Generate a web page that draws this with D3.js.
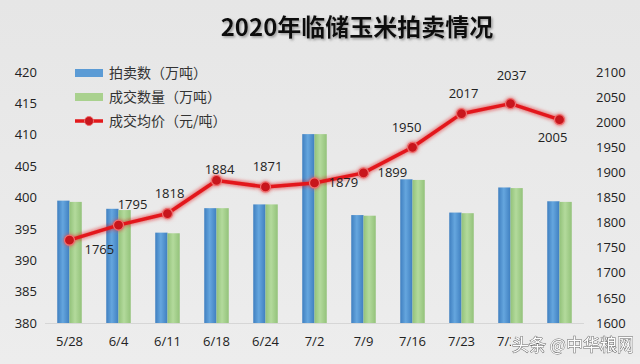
<!DOCTYPE html>
<html>
<head>
<meta charset="utf-8">
<script src="https://cdn.jsdelivr.net/npm/d3@7"></script>
<style>
  body { margin: 0; background: #e9e9e9; }
  svg { display: block; font-family: "Noto Sans CJK SC", "Noto Sans", sans-serif; }
</style>
</head>
<body>
<div id="chart"></div>
<script>
const dates = ["5/28", "6/4", "6/11", "6/18", "6/24", "7/2", "7/9", "7/16", "7/23", "7/30", "8/6"];
const auctioned = [399.5, 398.2, 394.4, 398.3, 398.9, 410.1, 397.2, 402.9, 397.6, 401.6, 399.4];
const traded = [399.3, 398.0, 394.3, 398.3, 398.9, 410.1, 397.1, 402.8, 397.5, 401.5, 399.3];
const avgPrice = [1765, 1795, 1818, 1884, 1871, 1879, 1899, 1950, 2017, 2037, 2005];
const leftTicks = [380, 385, 390, 395, 400, 405, 410, 415, 420];
const rightTicks = [1600, 1650, 1700, 1750, 1800, 1850, 1900, 1950, 2000, 2050, 2100];
const legendNames = ["拍卖数（万吨）", "成交数量（万吨）", "成交均价（元/吨）"];
// where each price label sits relative to its point
const labelSide = ["br", "ar", "a", "ac", "a", "r", "r", "al", "a", "aa", "b"];

const width = 640, height = 364;
const margin = { top: 72, right: 56, bottom: 41, left: 45 };

const svg = d3.select('#chart').append('svg')
    .attr('width', width)
    .attr('height', height);

const defs = svg.append('defs');
const bg = defs.append('linearGradient').attr('id', 'bg').attr('x1', 0).attr('y1', 0).attr('x2', 0).attr('y2', 1);
bg.append('stop').attr('offset', '0%').attr('stop-color', '#e6e6e6');
bg.append('stop').attr('offset', '100%').attr('stop-color', '#ededed');

function barGrad(id, edge, mid) {
    const g = defs.append('linearGradient').attr('id', id).attr('x1', 0).attr('x2', 1).attr('y1', 0).attr('y2', 0);
    g.append('stop').attr('offset', '0%').attr('stop-color', edge);
    g.append('stop').attr('offset', '45%').attr('stop-color', mid);
    g.append('stop').attr('offset', '100%').attr('stop-color', edge);
}
barGrad('blue', '#3f7fc0', '#65a6de');
barGrad('green', '#93c27a', '#b3da9c');

const glow = defs.append('filter').attr('id', 'glow').attr('x', '-10%').attr('y', '-10%').attr('width', '120%').attr('height', '120%');
glow.append('feGaussianBlur').attr('stdDeviation', 2.2).attr('result', 'b');
const merge = glow.append('feMerge');
merge.append('feMergeNode').attr('in', 'b');
merge.append('feMergeNode').attr('in', 'SourceGraphic');

const shadow = defs.append('filter').attr('id', 'tshadow');
shadow.append('feDropShadow').attr('dx', 1.5).attr('dy', 1.5).attr('stdDeviation', 1).attr('flood-color', '#888').attr('flood-opacity', 0.8);

svg.append('rect').attr('width', width).attr('height', height).attr('fill', 'url(#bg)');

const x = d3.scaleBand()
    .domain(dates)
    .range([margin.left, width - margin.right])
    .paddingInner(0.5)
    .paddingOuter(0.25);

const yL = d3.scaleLinear().domain([380, 420]).range([height - margin.bottom, margin.top]);
const yR = d3.scaleLinear().domain([1600, 2100]).range([height - margin.bottom, margin.top]);

// title
svg.append('text')
    .attr('x', 357).attr('y', 36)
    .attr('text-anchor', 'middle')
    .attr('font-size', 24)
    .attr('font-weight', 'bold')
    .attr('fill', '#111')
    .attr('filter', 'url(#tshadow)')
    .text('2020年临储玉米拍卖情况');

// axes
const axisL = svg.append('g')
    .attr('transform', `translate(${margin.left - 4},0)`)
    .call(d3.axisLeft(yL).tickValues(leftTicks).tickSize(0).tickPadding(4));
const axisR = svg.append('g')
    .attr('transform', `translate(${width - margin.right + 12},0)`)
    .call(d3.axisRight(yR).tickValues(rightTicks).tickFormat(d3.format('d')).tickSize(0).tickPadding(0));
const axisB = svg.append('g')
    .attr('transform', `translate(0,${height - margin.bottom + 2})`)
    .call(d3.axisBottom(x).tickSize(0).tickPadding(12));

[axisL, axisR, axisB].forEach(a => {
    a.select('.domain').remove();
    a.selectAll('text')
        .attr('font-family', '"Open Sans", "Noto Sans", sans-serif')
        .attr('font-size', 13)
        .attr('fill', '#222');
});
svg.append('line')
    .attr('x1', margin.left).attr('x2', width - margin.right)
    .attr('y1', yL(380) + 0.5).attr('y2', yL(380) + 0.5)
    .attr('stroke', '#d6d6d6');

// bars
const bw = x.bandwidth() / 2;
const bars = svg.append('g');
bars.selectAll('.blue').data(auctioned).enter()
    .append('rect')
    .attr('x', (d, i) => x(dates[i]))
    .attr('y', d => yL(d))
    .attr('width', bw)
    .attr('height', d => yL(380) - yL(d))
    .attr('fill', 'url(#blue)');
bars.selectAll('.green').data(traded).enter()
    .append('rect')
    .attr('x', (d, i) => x(dates[i]) + bw)
    .attr('y', d => yL(d))
    .attr('width', bw)
    .attr('height', d => yL(380) - yL(d))
    .attr('fill', 'url(#green)');

// price line
const cx = (d, i) => x(dates[i]) + x.bandwidth() / 2;
const line = d3.line().x(cx).y(d => yR(d));
const lg = svg.append('g').attr('filter', 'url(#glow)');
lg.append('path')
    .datum(avgPrice)
    .attr('d', line)
    .attr('fill', 'none')
    .attr('stroke', '#e3191b')
    .attr('stroke-width', 3.5)
    .attr('stroke-linejoin', 'round');
lg.selectAll('circle').data(avgPrice).enter()
    .append('circle')
    .attr('cx', cx)
    .attr('cy', d => yR(d))
    .attr('r', 5)
    .attr('fill', '#c8161d')
    .attr('stroke', '#f07070')
    .attr('stroke-width', 1.2);

const offsets = {
    a: [2, -16, 'middle'],
    ac: [3, -6, 'middle'],
    aa: [1, -24, 'middle'],
    ar: [14, -16, 'middle'],
    al: [-6, -15, 'middle'],
    r: [14, 4, 'start'],
    br: [15, 14, 'start'],
    b: [-7, 22, 'middle']
};
svg.append('g').selectAll('text').data(avgPrice).enter()
    .append('text')
    .attr('x', (d, i) => cx(d, i) + offsets[labelSide[i]][0])
    .attr('y', d => yR(d))
    .attr('dy', (d, i) => offsets[labelSide[i]][1])
    .attr('text-anchor', (d, i) => offsets[labelSide[i]][2])
    .attr('font-family', '"Open Sans", "Noto Sans", sans-serif')
    .attr('font-size', 13)
    .attr('fill', '#222')
    .text(d => d);

// legend
const legend = svg.append('g').attr('transform', 'translate(75,73)');
const item = legend.selectAll('g').data(legendNames).enter()
    .append('g')
    .attr('transform', (d, i) => `translate(0,${i * 24})`);
item.filter((d, i) => i < 2).append('rect')
    .attr('x', 0).attr('y', -4).attr('width', 28).attr('height', 8)
    .attr('fill', (d, i) => i === 0 ? '#5b9bd5' : '#a9d18e');
const lineItem = item.filter((d, i) => i === 2);
lineItem.append('line')
    .attr('x1', 0).attr('x2', 28).attr('y1', 0).attr('y2', 0)
    .attr('stroke', '#e3191b').attr('stroke-width', 3.5);
lineItem.append('circle')
    .attr('cx', 14).attr('cy', 0).attr('r', 4.5)
    .attr('fill', '#c8161d').attr('stroke', '#f07070');
item.append('text')
    .attr('x', 34).attr('y', 0).attr('dy', '0.35em')
    .attr('font-size', 14)
    .attr('fill', '#333')
    .text(d => d);

// watermark, covering the tail of the date axis like in the source image
svg.append('rect')
    .attr('x', 511).attr('y', 335).attr('width', 129).attr('height', 22)
    .attr('fill', '#ececec');
svg.append('text')
    .attr('x', 512).attr('y', 351)
    .attr('font-size', 17)
    .attr('fill', '#ffffff')
    .attr('stroke', '#555')
    .attr('stroke-width', 0.9)
    .attr('paint-order', 'stroke')
    .attr('opacity', 0.9)
    .text('头条 @中华粮网');
</script>
</body>
</html>
